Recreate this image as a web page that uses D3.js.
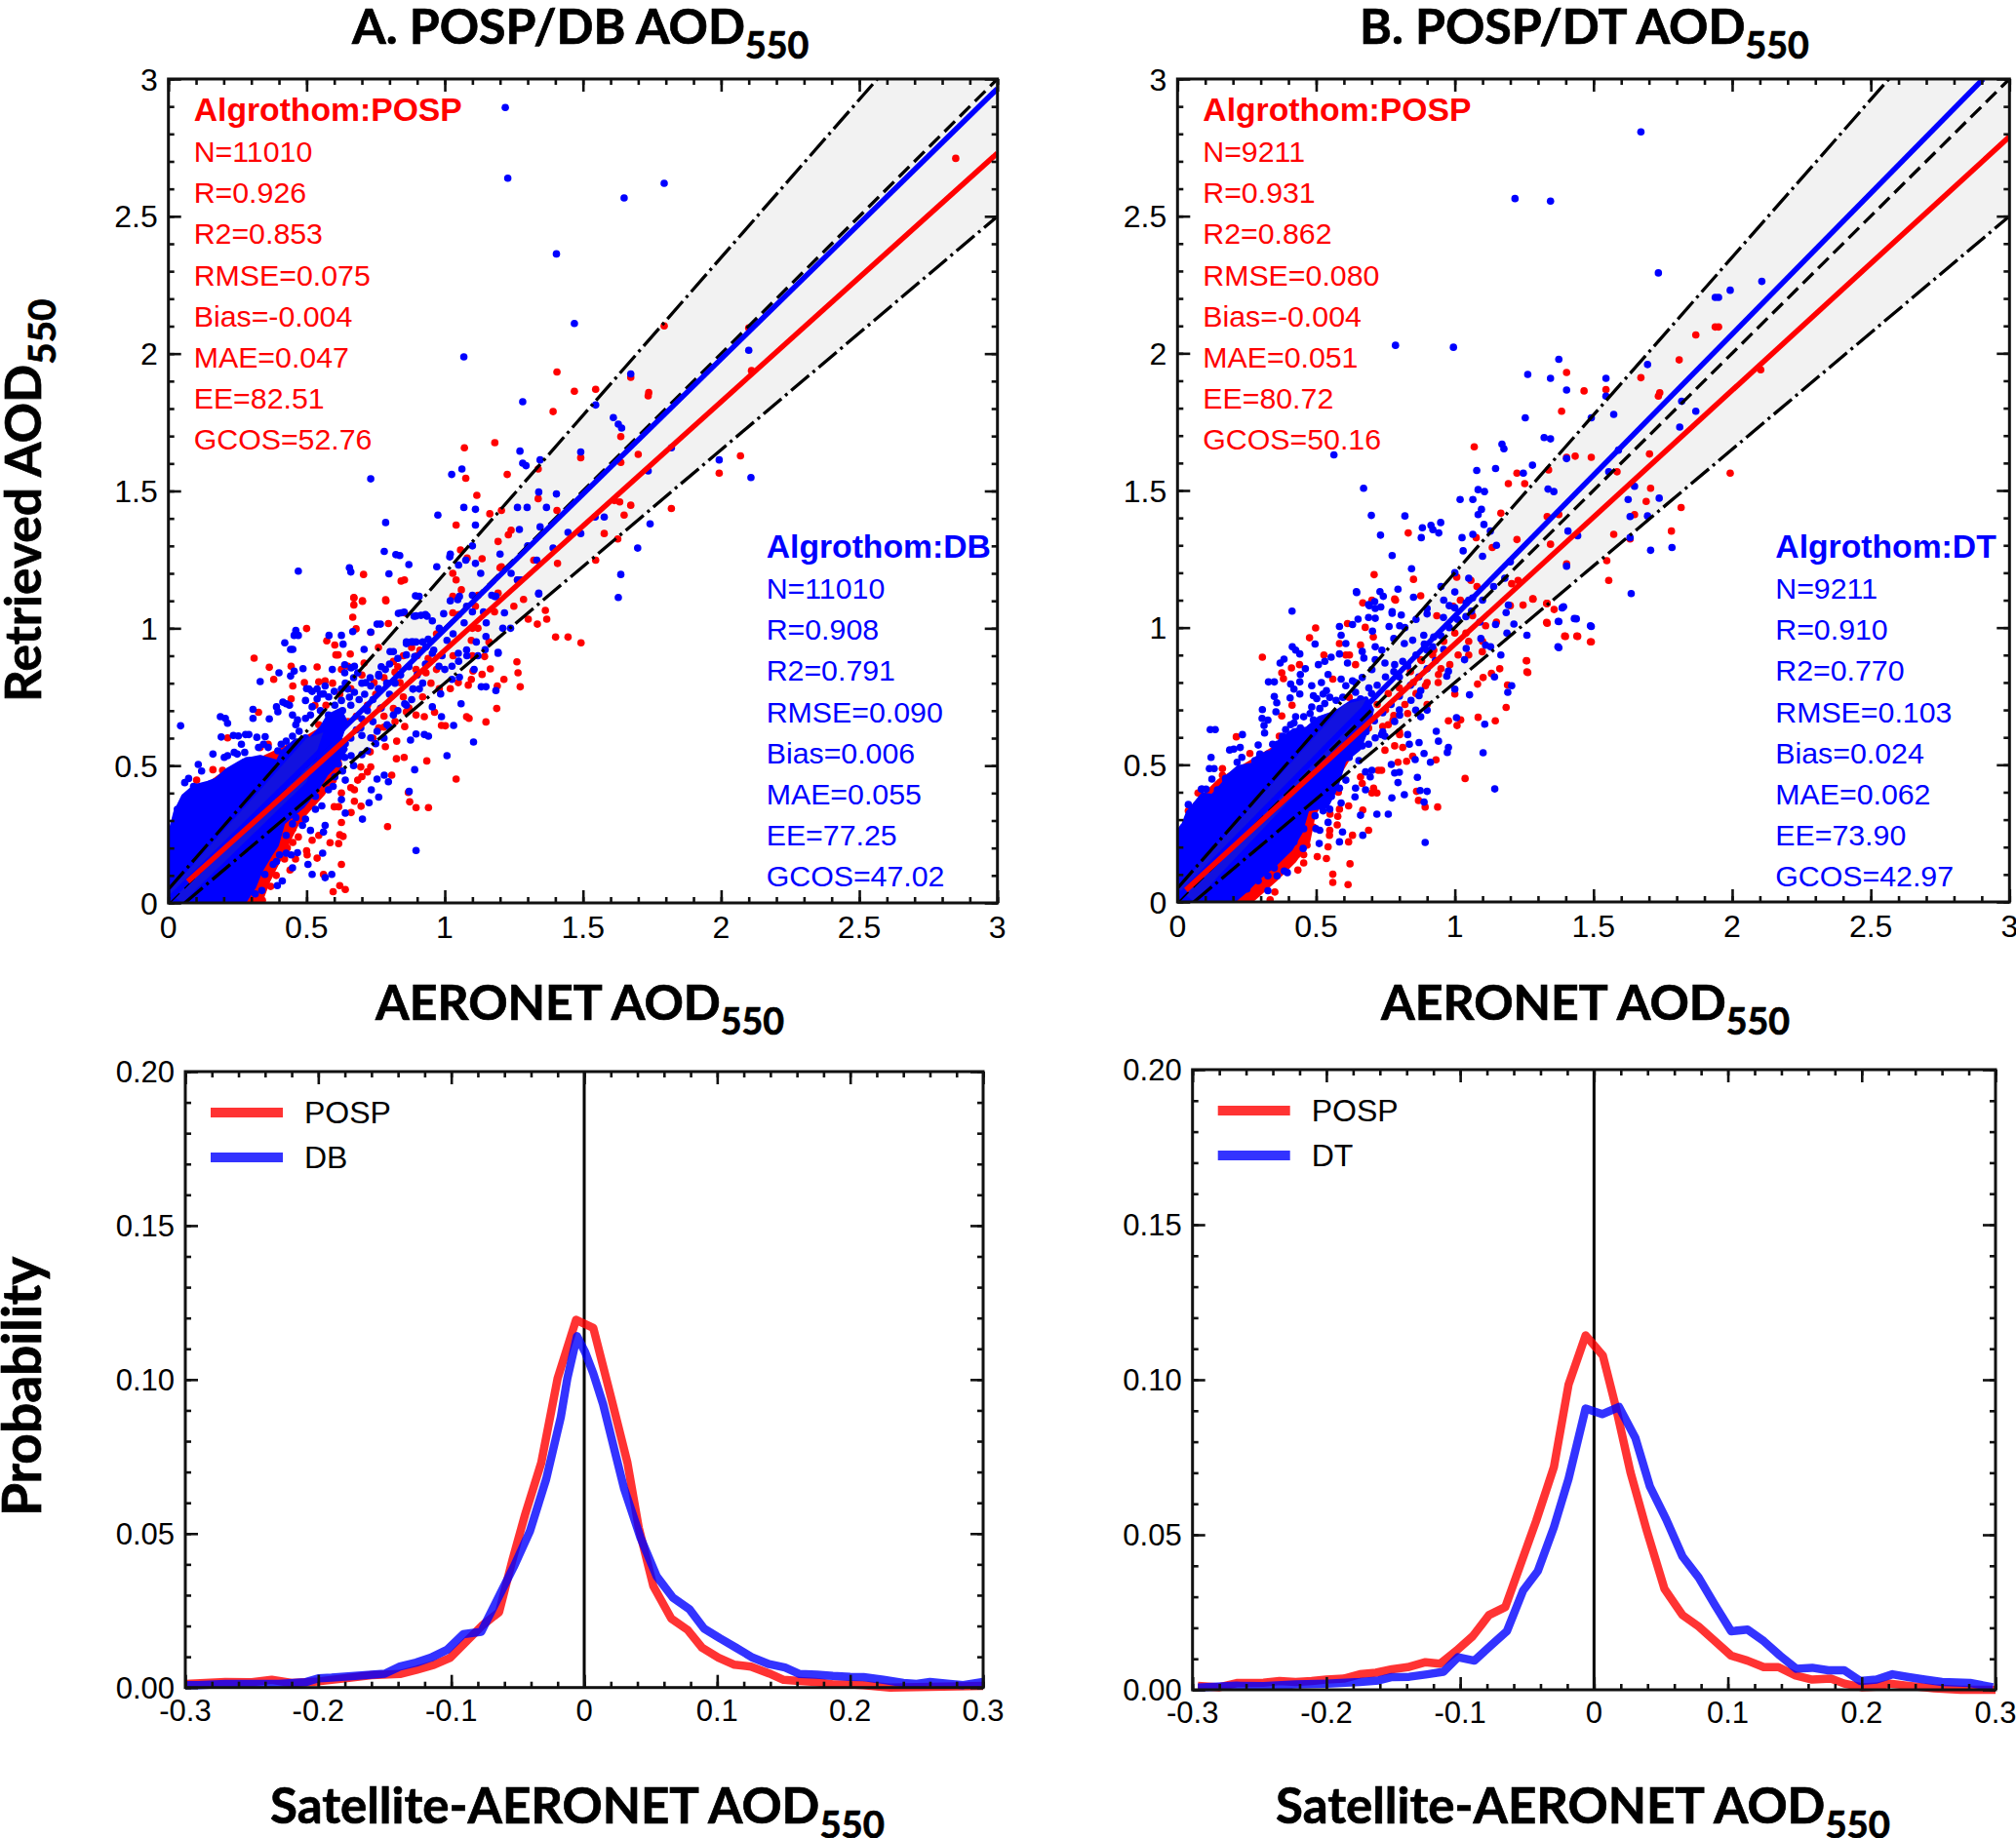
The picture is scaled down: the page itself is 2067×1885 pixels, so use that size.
<!DOCTYPE html>
<html>
<head>
<meta charset="utf-8">
<script src="https://cdn.jsdelivr.net/npm/d3@7"></script>
<style>
  html, body { margin: 0; padding: 0; background: #fff; overflow: hidden; }
  svg { display: block; }
  .head { font-family: Lato, sans-serif; font-weight: 700; fill: #000; stroke: #000; stroke-width: 0.7px; }
  .num  { font-family: "Liberation Sans", Arial, sans-serif; }
</style>
</head>
<body>
<svg id="fig" width="2067" height="1885"></svg>
<script>
/* ---------- scatter: reference lines and fits, [x, y] in AOD ---------- */
const oneToOne = [[0, 0], [3, 3]];
const eeUpper  = [[0, 0.05], [3, 3.5]];
const eeLower  = [[0.059, 0], [3, 2.5]];
const fitPospA = [[0.07, 0.078], [3, 2.73]];
const fitDbA   = [[0, 0.012], [3, 2.965]];
const fitPospB = [[0.03, 0.043], [3, 2.79]];
const fitDtB   = [[0, 0.014], [2.905, 3]];

/* ---------- solid parts of the clouds, too dense to read point by point ---------- */
const cloudRedA = [[0,0],[0,.2],[.05,.36],[.2,.47],[.35,.53],[.5,.6],[.6,.66],[.62,.5],[.56,.4],[.47,.3],[.42,.2],[.36,.08],[.33,0]];
const cloudDbA = [[0,0],[0,.21],[.008,.258],[.026,.329],[.055,.388],[.096,.424],[.144,.436],[.173,.447],[.214,.483],[.273,.518],[.332,.53],[.396,.512],[.414,.55],[.461,.59],[.508,.589],[.555,.637],[.58,.68],[.62,.7],[.64,.66],[.62,.6],[.64,.56],[.6,.5],[.57,.47],[.54,.42],[.485,.353],[.414,.293],[.391,.211],[.367,.175],[.332,.116],[.308,.057],[.273,.004]];
const cloudRedB = [[0,0],[0,.22],[.05,.34],[.15,.44],[.3,.53],[.45,.62],[.55,.68],[.66,.6],[.6,.5],[.54,.4],[.49,.32],[.47,.22],[.42,.15],[.35,.08],[.26,0]];
const cloudDtB = [[0,0],[0,.255],[.021,.278],[.039,.326],[.068,.361],[.091,.39],[.127,.385],[.168,.432],[.174,.45],[.22,.49],[.279,.5],[.291,.53],[.338,.545],[.373,.59],[.42,.625],[.467,.63],[.513,.67],[.572,.69],[.631,.73],[.68,.74],[.7,.7],[.689,.65],[.654,.56],[.6,.515],[.572,.421],[.537,.35],[.467,.338],[.443,.255],[.408,.195],[.349,.136],[.291,.089],[.244,.041],[.197,0]];
const coreA = [[0,.04],[.5,.6],[.56,.62],[.5,.44],[.05,0]];
const coreB = [[0,.05],[.6,.72],[.68,.74],[.6,.58],[.06,0]];

/* ---------- scatter points, [AERONET, retrieved] ---------- */
const redA = [[.5,.999],[.31,.891],[.365,.858],[.381,.814],[.326,.694],[.444,.862],[.538,.859],[.573,.954],[.602,.939],[.606,.903],[.658,.906],[.667,1.04],[.671,1.11],[.702,1.098],[.787,1.1],[.679,.998],[.492,.802],[.544,.805],[.567,.808],[.594,.8],[.796,1.017],[.732,.985],[1.401,.968],[1.446,.968],[1.493,.947],[1.369,1.033],[1.335,1.015],[1.302,1.033],[1.364,1.065],[1.285,1.105],[1.25,1.08],[1.261,.878],[1.265,.838],[1.214,.814],[1.273,.787],[1.19,.79],[1.188,.708],[1.165,.852],[1.135,.832],[1.085,.793],[1.102,.844],[1.079,.678],[1.088,.672],[1.149,.659],[1.002,.645],[.988,.646],[.963,.694],[1.041,.451],[.855,.642],[.785,.569],[.808,.465],[.793,.278],[.868,.402],[.873,.368],[.896,.347],[.941,.347],[.853,.53],[.825,.525],[.935,.517],[.673,.37],[.697,.352],[.661,.329],[.6,.35],[.616,.35],[.626,.293],[.62,.248],[.632,.242],[.585,.219],[.616,.216],[.561,.104],[.62,.063],[.596,.041],[.64,.049],[.626,.14],[.538,.163],[.52,.228],[.544,.246],[.502,.175],[2.849,2.711],[1.794,2.101],[2.1,2.094],[2.11,1.938],[1.406,1.933],[1.469,1.863],[1.546,1.87],[1.673,1.914],[1.738,1.858],[1.736,1.846],[1.392,1.789],[1.637,1.698],[1.7,1.633],[1.637,1.604],[1.492,1.621],[1.181,1.676],[1.071,1.657],[1.076,1.546],[1.226,1.56],[1.338,1.58],[1.116,1.484],[1.338,1.472],[1.406,1.429],[2.07,1.628],[1.993,1.565],[1.82,1.436],[1.673,1.448],[1.649,1.412],[1.633,1.46],[1.614,1.465],[1.626,1.325],[1.577,1.345],[1.546,1.248],[1.408,1.236],[1.041,1.376],[1.057,1.285],[1.163,1.417],[1.205,1.429],[1.24,1.357],[1.23,1.34],[1.193,1.316],[1.081,1.256],[1.135,1.253],[1.029,1.2],[1.041,1.176],[.854,1.176],[.842,1.172],[.706,1.196],[.786,1.104],[.671,1.112],[.702,1.1],[.671,1.085],[.45,.79],[.62,.76],[.7,.83],[.76,.93],[.83,.86],[.9,.9],[.97,.98],[1.05,1.05],[1.12,1.12],[1.2,1.22],[.78,.68],[.85,.75],[.95,.8],[1.03,.9],[1.1,1],[.73,.55],[.7,.46],[.66,.42]];
const redAEdge = [[.45,.22],[.47,.24],[.43,.2],[.42,.16],[.39,.1],[.37,.06],[.34,.01],[.33,.04],[.45,.27],[.48,.3],[.5,.19],[.46,.16],[.44,.12],[.36,.14],[.4,.21],[.026,.258],[.014,.246],[.049,.341],[.102,.447],[.161,.485],[.196,.483],[.214,.601],[.361,.578],[.332,.566],[.396,.53],[.444,.743],[.544,.649],[.596,.649],[.614,.684],[.649,.862],[.626,.85],[.614,.903],[.708,.873],[.744,.802],[.814,.879],[.896,.85],[.932,.838],[.838,.802],[.767,.708],[.814,.708],[.861,.696],[.896,.684],[.926,.678],[.761,.637],[.826,.589],[.696,.495],[.72,.477],[.732,.495],[.685,.447],[.673,.412],[.626,.4],[.596,.447],[.579,.483],[1.096,.956],[1.144,.897],[1.049,.802],[1.096,.814],[1.029,1.116],[1.111,1.08],[1.205,1.224],[1.263,1.176],[1.322,1.248],[1.193,1.128],[1.029,1.056],[.854,1.056],[.65,.66],[.68,.68],[.72,.72],[.75,.76],[.78,.82],[.82,.84],[.85,.9],[.88,.93],[.91,.92],[.94,.89],[.97,.85],[.92,.75],[.87,.71],[.82,.66],[.78,.64],[.74,.6],[.62,.62],[.59,.6],[.57,.72],[.53,.72],[.66,.78],[.98,.78],[1.02,.78],[1.1,.9],[1.16,.95],[1.12,1],[1.18,1.06],[1.06,1.14]];
const blueA = [[.044,.645],[.188,.678],[.206,.672],[.214,.654],[.191,.604],[.235,.61],[.253,.608],[.279,.613],[.291,.613],[.32,.603],[.35,.605],[.306,.705],[.306,.672],[.365,.67],[.332,.806],[.4,.838],[.421,.947],[.45,.923],[.442,.923],[.461,.992],[.455,.974],[.47,.974],[.442,.826],[.455,.844],[.487,.853],[.581,.974],[.626,.974],[.632,.942],[.667,.988],[.593,.85],[.5,.78],[.52,.77],[.55,.76],[.894,1.118],[.832,1.054],[.853,1.059],[.896,1.045],[.914,1.047],[.996,1.053],[1.047,1.104],[1.079,1.08],[1.185,1.116],[1.34,1.125],[1.149,.97],[1.21,1],[1.238,1],[1.193,.909],[1.106,.85],[1.053,.822],[1.132,.787],[1.149,.787],[1.185,.773],[1.059,.725],[.988,.678],[1.032,.646],[1.104,.586],[1.008,.536],[.941,.607],[.926,.613],[.896,.615],[.876,.593],[.891,.485],[.871,.406],[.896,.191],[.796,.441],[.781,.465],[.755,.451],[.734,.412],[.761,.385],[.726,.365],[.702,.305],[.64,.327],[.567,.282],[.561,.258],[.514,.264],[.52,.104],[.591,.104],[.567,.092],[.505,.14],[.558,.181],[.467,.183],[.449,.128],[.412,.08],[.394,.063],[.696,.637],[.579,.542],[.64,.447],[.596,.424],[.626,.376],[.955,.714],[.855,.725],[.885,.779],[.985,.761],[1.026,.862],[1.114,.95],[1.079,.921],[1.049,.909],[1.008,.956],[.955,1.027],[.861,.944],[.885,.95],[.767,1.015],[.755,1.015],[.708,.923],[.732,.986],[.802,.915],[.761,.832],[.673,.862],[.638,.867],[1.219,2.896],[1.228,2.639],[1.794,2.62],[1.649,2.567],[1.404,2.363],[1.469,2.11],[1.069,1.988],[1.673,1.926],[2.1,2.012],[1.282,1.825],[1.546,1.813],[1.61,1.767],[1.628,1.743],[1.64,1.729],[1.492,1.642],[1.272,1.645],[1.282,1.601],[1.294,1.592],[1.345,1.613],[.732,1.544],[1.062,1.58],[1.025,1.56],[1.993,1.613],[2.108,1.549],[1.736,1.573],[1.82,1.657],[.975,1.412],[.786,1.385],[1.069,1.44],[1.111,1.433],[1.111,1.376],[.781,1.28],[.823,1.268],[.837,1.265],[.87,1.232],[.798,1.198],[.47,1.208],[.655,1.22],[.66,1.205],[1.637,1.196],[1.628,1.112],[1.743,1.38],[1.698,1.292],[1.544,1.405],[1.577,1.405],[1.34,1.496],[1.404,1.489],[1.263,1.44],[1.298,1.44],[1.368,1.44],[1.446,1.349],[1.492,1.345],[1.392,1.292],[1.345,1.369],[1.333,1.248],[1.263,1.176],[1.34,1.128],[1.02,1.27],[1.05,1.23],[1.1,1.3],[1.13,1.2],[1.17,1.12],[1.1,1.12],[1.02,1.1],[.93,1.05],[1.2,1.27],[1.27,1.36],[1.3,1.3]];
const blueAEdge = [[.032,.341],[.049,.353],[.059,.438],[.073,.453],[.091,.424],[.108,.504],[.12,.48],[.161,.542],[.202,.53],[.214,.536],[.238,.548],[.249,.542],[.264,.578],[.276,.548],[.285,.518],[.297,.518],[.326,.566],[.344,.578],[.361,.566],[.396,.554],[.408,.578],[.426,.589],[.449,.607],[.473,.625],[.496,.601],[.461,.649],[.467,.666],[.496,.672],[.514,.684],[.426,.725],[.414,.731],[.438,.72],[.391,.714],[.396,.696],[.449,.684],[.496,.737],[.508,.779],[.538,.779],[.567,.79],[.561,.761],[.538,.743],[.52,.714],[.579,.684],[.602,.72],[.626,.737],[.655,.749],[.673,.767],[.626,.779],[.649,.779],[.638,.838],[.661,.856],[.685,.838],[.714,.802],[.732,.79],[.761,.826],[.785,.85],[.814,.915],[.861,.903],[.891,.897],[.896,.95],[.861,.95],[.879,.95],[.92,.95],[.932,.933],[.955,.909],[.979,.862],[1,.85],[1.026,.814],[.885,.779],[.908,.779],[.861,.72],[.814,.684],[.791,.649],[.755,.625],[.732,.601],[.72,.554],[.661,.536],[.638,.53],[.614,.506],[.602,.459],[.579,.412],[.532,.388],[.555,.353],[.532,.341],[.496,.305],[.485,.282],[.461,.311],[.449,.288],[.426,.246],[.444,.175],[.426,.181],[.402,.175],[.391,.151],[.379,.14],[.349,.104],[.338,.045],[.314,.033],[.842,1.056],[.889,1.044],[.936,1.044],[.907,1.116],[.971,1.224],[1.018,1.26],[1.076,1.248],[1.111,1.236],[1.053,1.116],[1.181,1.116],[1.24,1.2],[1.275,1.176],[1.216,1.056],[1.146,.922],[1.193,.912],[.6,.68],[.63,.7],[.66,.72],[.69,.74],[.71,.76],[.74,.74],[.72,.7],[.7,.67],[.68,.63],[.66,.6],[.7,.61],[.74,.66],[.77,.71],[.8,.76],[.82,.8],[.84,.83],[.79,.8],[.76,.78],[.73,.82],[.77,.86],[.8,.87],[.83,.89],[.87,.86],[.9,.83],[.93,.87],[.96,.92],[.99,.9],[.92,.8],[.88,.74],[.83,.7],[.8,.64],[.78,.6],[.75,.58],[.7,.54],[.67,.5],[.63,.48],[.6,.55],[.64,.58],[.55,.7],[.58,.75],[.6,.77],[.64,.8],[.67,.82],[.7,.8],[.94,.96],[.98,1],[1.03,.98],[1.07,1.02],[1.1,1.06],[1.14,1.06],[1.15,1.02],[1.05,.88],[1.08,.9],[1.12,.9]];
const redB = [[.498,.999],[.476,.963],[.306,.892],[.212,.602],[.376,.835],[.382,.814],[.411,.853],[.44,.865],[.413,.717],[.376,.678],[.261,.541],[.162,.486],[.074,.397],[.613,1.015],[.668,1.09],[.701,1.1],[.783,1.104],[.877,1.116],[.677,1.001],[.706,.966],[.584,.942],[.528,.9],[.607,.9],[.62,.9],[.642,.865],[.66,.936],[.56,.812],[.619,.746],[1.358,1.066],[1.396,.969],[1.44,.969],[1.489,.948],[1.331,1.019],[1.331,1.088],[1.281,1.105],[1.246,1.082],[1.258,.88],[1.26,.839],[1.162,.85],[1.132,.833],[1.102,.818],[1.082,.794],[1.19,.791],[1.185,.709],[1.146,.66],[1.084,.673],[1.021,.664],[1.008,.643],[.977,.66],[1,.758],[1.099,.912],[1.111,1.007],[1.037,.45],[.938,.346],[.893,.346],[.869,.37],[.862,.403],[.932,.518],[.848,.531],[.826,.513],[.795,.509],[.812,.563],[.783,.569],[.748,.553],[.724,.48],[.719,.397],[.707,.415],[.668,.335],[.689,.261],[.631,.243],[.617,.219],[.622,.139],[.56,.101],[.56,.071],[.615,.063],[.576,.281],[.578,.312],[.617,.35],[.548,.243],[.543,.201],[.537,.158],[.504,.165],[.455,.142],[.434,.116],[.351,.036],[.334,.008],[.291,.047],[.256,.02],[2.103,1.94],[1.993,1.563],[1.951,2.096],[1.939,2.096],[1.869,2.067],[1.809,1.976],[1.671,1.911],[1.739,1.856],[1.734,1.844],[1.403,1.93],[1.466,1.863],[1.545,1.868],[1.385,1.789],[1.702,1.633],[1.403,1.621],[1.434,1.625],[1.492,1.621],[1.585,1.568],[1.07,1.659],[1.224,1.563],[1.193,1.525],[1.338,1.575],[1.252,1.525],[1.706,1.508],[1.648,1.412],[1.69,1.46],[1.816,1.438],[1.781,1.352],[1.573,1.34],[1.632,1.323],[1.548,1.244],[1.555,1.172],[1.403,1.232],[.832,1.345],[.709,1.193],[.851,1.176],[.786,1.1],[1.166,1.417],[1.333,1.405],[1.375,1.412],[1.224,1.321],[1.345,1.304],[1.077,1.328],[1.135,1.292],[1.007,1.184],[1.058,1.172],[1.205,1.16],[1.228,1.172],[1.282,1.104],[1.333,1.088],[1.333,1.016],[1.399,.968],[1.443,.968],[1.492,.948],[1.259,.879],[1.263,.836],[.75,.7],[.8,.62],[.9,.72],[.95,.85],[1.05,.95],[.85,.8]];
const redBEdge = [[.009,.243],[.039,.332],[.068,.35],[.127,.397],[.162,.462],[.273,.48],[.332,.515],[.367,.604],[.513,.551],[.572,.598],[.631,.575],[.654,.586],[.689,.634],[.76,.646],[.777,.663],[.801,.61],[.83,.687],[.894,.788],[.941,.829],[.982,.865],[1.012,.9],[.877,.883],[.924,.918],[.935,1.043],[.994,1.078],[1.064,1.043],[.455,.338],[.478,.302],[.49,.273],[.467,.207],[.455,.172],[.431,.172],[.408,.148],[.385,.154],[.361,.148],[.291,.089],[.256,.03],[.66,.456],[.666,.432],[.736,.48],[.701,.397],[.584,.338],[.549,.261],[.72,.72],[.76,.76],[.8,.78],[.84,.84],[.88,.88],[.92,.9],[.96,.95],[1,.98],[1.04,.98],[.86,.76],[.82,.72],[.78,.68],[.74,.64],[.9,.8],[.94,.8],[1.05,.9],[1.1,.95],[1.15,1.02],[1.2,1.08],[.66,.66],[.62,.62],[.6,.52],[.56,.46],[.52,.42],[.58,.4],[.55,.32],[1.02,1.1],[1.08,1.15]];
const blueB = [[.413,1.06],[.645,1.131],[.73,1.131],[.742,1.114],[.795,1.14],[.851,1.111],[.689,1.084],[.713,1.07],[.733,1.075],[.774,1.058],[.807,1.046],[.651,1.031],[.689,1.037],[.713,1.034],[.631,1.011],[.584,1.004],[.763,1.004],[.801,1.007],[.703,.987],[.59,.972],[.607,.942],[.496,.94],[.414,.93],[.426,.918],[.441,.904],[.384,.885],[.37,.871],[.666,.913],[.672,.889],[.584,.904],[.554,.892],[.531,.877],[.508,.865],[.613,.871],[.461,.85],[.443,.829],[.349,.802],[.328,.802],[.408,.794],[.441,.802],[.42,.776],[.441,.758],[.406,.744],[.349,.749],[.358,.726],[.484,.788],[.543,.829],[.519,.8],[.59,.812],[.631,.806],[.306,.701],[.355,.693],[.305,.669],[.326,.663],[.312,.643],[.118,.628],[.136,.628],[.234,.61],[.314,.616],[.291,.572],[.203,.557],[.188,.554],[.226,.563],[.121,.527],[.115,.486],[.132,.486],[.124,.448],[.089,.411],[.039,.355],[1.387,1.072],[1.431,1.033],[1.489,1.007],[1.375,1.022],[1.372,.93],[1.26,.972],[1.213,1.013],[1.188,.98],[1.166,.9],[1.147,1.011],[1.193,1.082],[1.185,1.055],[1.143,.82],[1.205,.788],[1.191,.764],[1.053,.755],[1,.776],[1.108,.648],[1.006,.672],[.977,.563],[.973,.545],[1.102,.544],[1.144,.412],[.941,.586],[.933,.622],[.889,.541],[.912,.509],[.857,.519],[.865,.454],[.9,.403],[.875,.406],[.818,.391],[.773,.379],[.889,.364],[.76,.32],[.719,.32],[.66,.316],[.668,.243],[.893,.217],[.795,.435],[.783,.47],[.8,.473],[.771,.501],[.695,.456],[.678,.409],[.642,.415],[.64,.383],[.59,.361],[.595,.255],[.584,.219],[.511,.213],[.499,.267],[.513,.261],[.543,.29],[.453,.195],[.396,.107],[.359,.095],[.326,.041],[1.671,2.807],[1.217,2.564],[1.345,2.555],[1.734,2.293],[2.107,2.262],[1.993,2.23],[1.951,2.204],[1.939,2.204],[.786,2.029],[.995,2.022],[1.375,1.978],[1.695,1.959],[1.263,1.923],[1.345,1.909],[1.545,1.909],[1.403,1.866],[1.545,1.844],[1.818,1.825],[1.869,1.789],[1.811,1.731],[1.254,1.765],[1.492,1.765],[1.573,1.777],[1.322,1.693],[1.345,1.688],[1.17,1.669],[1.177,1.652],[.564,1.63],[1.403,1.616],[1.59,1.647],[1.079,1.573],[1.147,1.58],[1.247,1.563],[1.28,1.592],[1.555,1.568],[.671,1.508],[1.084,1.503],[1.107,1.496],[1.019,1.467],[1.065,1.467],[1.336,1.505],[1.357,1.496],[1.648,1.515],[1.625,1.467],[1.737,1.472],[.699,1.409],[.82,1.407],[1.096,1.431],[1.084,1.412],[1.632,1.405],[1.695,1.407],[.949,1.383],[.914,1.373],[.883,1.364],[.921,1.357],[.879,1.328],[.942,1.345],[.732,1.337],[.774,1.263],[.844,1.215],[1.03,1.28],[1.026,1.328],[1.105,1.376],[1.065,1.34],[1.128,1.352],[1.408,1.352],[1.443,1.335],[1.632,1.328],[1.706,1.282],[1.783,1.292],[1.636,1.124],[1.403,1.224],[1.392,1.076],[1.373,1.023],[1.438,1.032],[1.492,1.004],[1.375,.927],[.646,1.128],[.711,1.095],[.692,1.08],[.774,1.052],[.95,1.15],[1,1.2],[1.05,1.18],[1.1,1.26],[1.15,1.3],[1.2,1.24],[.9,1.05],[.98,1.08],[1.06,1.06]];
const blueBEdge = [[.021,.273],[.042,.308],[.056,.326],[.086,.411],[.103,.411],[.144,.409],[.173,.45],[.191,.456],[.215,.509],[.232,.527],[.255,.492],[.279,.515],[.297,.539],[.326,.539],[.343,.575],[.361,.575],[.379,.604],[.39,.628],[.408,.646],[.426,.675],[.42,.652],[.443,.634],[.455,.675],[.478,.687],[.49,.664],[.484,.711],[.513,.705],[.531,.723],[.502,.741],[.525,.758],[.537,.77],[.49,.752],[.549,.746],[.572,.735],[.596,.746],[.642,.764],[.642,.8],[.607,.788],[.666,.818],[.701,.847],[.713,.883],[.748,.871],[.783,.865],[.812,.877],[.713,.93],[.737,.918],[.818,.942],[.848,.954],[.888,.972],[.924,.966],[.9,.918],[.959,1.037],[1,1.072],[1.041,1.09],[1.064,1.108],[1.094,.96],[1.111,.936],[1.129,.93],[1.041,.924],[1.035,.883],[.977,.841],[.971,.823],[.877,.77],[.871,.752],[.842,.735],[.859,.699],[.9,.699],[.877,.675],[.801,.681],[.783,.658],[.736,.61],[.748,.604],[.713,.598],[.689,.575],[.666,.569],[.83,.61],[.871,.581],[.836,.575],[.701,.48],[.678,.474],[.654,.515],[.619,.527],[.607,.444],[.584,.415],[.555,.385],[.549,.338],[.525,.332],[.496,.314],[.455,.267],[.42,.219],[.402,.207],[.408,.249],[.385,.113],[.349,.124],[.326,.095],[.291,.077],[.25,.047],[.7,.76],[.72,.79],[.75,.82],[.78,.84],[.8,.82],[.83,.86],[.86,.9],[.89,.94],[.92,.93],[.95,.97],[.98,1],[1.01,1.03],[1.04,1.04],[.96,.92],[.93,.88],[.9,.85],[.87,.82],[.84,.79],[.8,.75],[.77,.72],[.74,.69],[.71,.66],[.68,.62],[.65,.58],[.62,.56],[.74,.62],[.8,.7],[.6,.66],[.62,.7],[.66,.74],[.69,.78],[1.1,1.1],[1.14,1.15],[1.05,1.1],[1.18,1.18],[1.09,1.02],[.78,.96],[.82,1],[.86,1.03],[.9,1.07],[.96,1.1],[1,1.13]];

/* ---------- probability curves, [difference, probability] ---------- */
const pdfPospA = [[-.3,.0012],[-.27,.0018],[-.25,.0017],[-.235,.0025],[-.22,.0015],[-.2,.002],[-.18,.003],[-.16,.004],[-.1386,.0044],[-.1264,.0057],[-.113,.0074],[-.1007,.0097],[-.0885,.015],[-.0763,.0203],[-.064,.0245],[-.054,.0414],[-.0445,.0561],[-.0323,.073],[-.02,.1004],[-.0061,.1194],[.0068,.1168],[.0203,.094],[.0325,.073],[.041,.0519],[.052,.0329],[.0655,.0224],[.0778,.0187],[.0887,.0129],[.101,.0097],[.113,.0074],[.1254,.0068],[.139,.0046],[.15,.0025],[.162,.0021],[.174,.0018],[.187,.001],[.2,.001],[.21,.0008],[.23,0],[.26,.0002],[.3,.0005]];
const pdfDb = [[-.3,.0008],[-.29,.0008],[-.27,.0012],[-.25,.0012],[-.23,.0012],[-.21,.0017],[-.2,.003],[-.19,.0032],[-.175,.0037],[-.16,.0042],[-.15,.0045],[-.1386,.0068],[-.1264,.0081],[-.1154,.0097],[-.103,.0123],[-.091,.0173],[-.0775,.0181],[-.0665,.0276],[-.053,.0392],[-.0408,.0508],[-.0286,.0677],[-.0176,.0878],[-.0127,.1004],[-.0054,.1141],[.0007,.1089],[.0068,.102],[.0142,.092],[.0215,.0793],[.03,.0646],[.0423,.0487],[.0545,.0361],[.0667,.0292],[.079,.0255],[.09,.0192],[.102,.016],[.1144,.0129],[.1267,.0097],[.139,.0076],[.151,.0065],[.162,.0044],[.175,.0042],[.187,.0038],[.2,.0035],[.21,.0034],[.225,.0025],[.24,.0015],[.25,.0012],[.26,.0018],[.275,.0012],[.285,.0008],[.3,.0018]];
const pdfPospB = [[-.296,.0013],[-.28,.0008],[-.267,.0022],[-.247,.0023],[-.235,.0028],[-.223,.0025],[-.211,.0028],[-.2,.0033],[-.187,.0036],[-.175,.005],[-.163,.0055],[-.151,.0066],[-.1392,.0073],[-.1259,.0089],[-.115,.0084],[-.1028,.0126],[-.0906,.0173],[-.0785,.0241],[-.0663,.0267],[-.0554,.0398],[-.0432,.0545],[-.03,.0718],[-.019,.0985],[-.0063,.1143],[.0066,.1078],[.0163,.0912],[.0272,.0702],[.0394,.0514],[.0527,.0325],[.0661,.0241],[.0782,.0204],[.0904,.0157],[.1025,.011],[.1147,.0094],[.1268,.0073],[.1378,.0073],[.15,.0047],[.163,.0033],[.177,.0036],[.187,.002],[.2,.0008],[.211,.001],[.221,.002],[.235,.0013],[.254,.0005],[.274,0],[.3,0]];
const pdfDt = [[-.296,.0007],[-.267,.0013],[-.247,.0012],[-.223,.0017],[-.2,.002],[-.175,.0025],[-.161,.003],[-.151,.0041],[-.138,.0042],[-.1246,.005],[-.1125,.0058],[-.1016,.0105],[-.0894,.0094],[-.0773,.0142],[-.0651,.0189],[-.053,.032],[-.042,.0383],[-.03,.0524],[-.019,.0681],[-.0063,.0907],[.0061,.0889],[.0187,.0912],[.0309,.0812],[.0418,.0655],[.0539,.055],[.0661,.043],[.0782,.0362],[.0904,.0273],[.1025,.0189],[.1147,.0194],[.1268,.0157],[.139,.011],[.1511,.0068],[.163,.0071],[.175,.0063],[.187,.0063],[.199,.0028],[.211,.0033],[.223,.005],[.235,.0041],[.247,.0033],[.26,.0025],[.281,.0022],[.298,.0008]];

/* ---------- ticks and text ---------- */
const aodMajor = [0, 0.5, 1, 1.5, 2, 2.5, 3];
const aodMinor = d3.range(0, 31).map(d => d / 10);
const aodLabels = ["0", "0.5", "1", "1.5", "2", "2.5", "3"];
const diffMajor = [-0.3, -0.2, -0.1, 0, 0.1, 0.2, 0.3];
const diffMinor = d3.range(-15, 16).map(d => d / 50);
const diffLabels = ["-0.3", "-0.2", "-0.1", "0", "0.1", "0.2", "0.3"];
const probMajor = [0, 0.05, 0.10, 0.15, 0.20];
const probMinor = d3.range(0, 21).map(d => d / 100);
const probLabels = ["0.00", "0.05", "0.10", "0.15", "0.20"];

const statNames = ["N", "R", "R2", "RMSE", "Bias", "MAE", "EE", "GCOS"];
const statsPospA = ["11010", "0.926", "0.853", "0.075", "-0.004", "0.047", "82.51", "52.76"];
const statsDb    = ["11010", "0.908", "0.791", "0.090", "0.006", "0.055", "77.25", "47.02"];
const statsPospB = ["9211", "0.931", "0.862", "0.080", "-0.004", "0.051", "80.72", "50.16"];
const statsDt    = ["9211", "0.910", "0.770", "0.103", "0.024", "0.062", "73.90", "42.97"];

const RED = "#ff0000", BLUE = "#0000ff";
const svg = d3.select("#fig");

/* box, inward ticks on all four sides, labels on left and bottom */
function frame(g, x, y, xMajor, xMinor, xLab, yMajor, yMinor, yLab, fs, labGap, yLabGap) {
  const [w, h] = [x.range()[1], y.range()[0]];
  const side = (axis, dx, dy, major, minor, mLen, nLen) => {
    const a = g.append("g").attr("transform", `translate(${dx},${dy})`);
    a.append("g").call(axis.tickValues(minor).tickSize(nLen).tickFormat(""));
    a.append("g").call(axis.tickValues(major).tickSize(mLen).tickFormat(""));
    a.selectAll("path").remove();
    a.selectAll("line").attr("stroke", "#111").attr("stroke-width", 2.6);
  };
  side(d3.axisBottom(x), 0, h, xMajor, xMinor, -13, -6);
  side(d3.axisTop(x),    0, 0, xMajor, xMinor, -13, -6);
  side(d3.axisLeft(y),   0, 0, yMajor, yMinor, -13, -6);
  side(d3.axisRight(y),  w, 0, yMajor, yMinor, -13, -6);

  g.append("rect").attr("width", w).attr("height", h)
    .attr("fill", "none").attr("stroke", "#111").attr("stroke-width", 3);

  g.selectAll(null).data(xMajor).enter().append("text").attr("class", "num")
    .attr("x", d => x(d)).attr("y", h + labGap).attr("text-anchor", "middle")
    .attr("font-size", fs).text((d, i) => xLab[i]);
  g.selectAll(null).data(yMajor).enter().append("text").attr("class", "num")
    .attr("x", -yLabGap).attr("y", d => y(d) + fs * 0.36).attr("text-anchor", "end")
    .attr("font-size", fs).text((d, i) => yLab[i]);
}

function subText(parent, x, y, size, label, sub, rotate) {
  const t = parent.append("text").attr("class", "head")
    .attr("font-size", size)
    .attr("transform", `translate(${x},${y})` + (rotate ? " rotate(-90)" : ""));
  t.append("tspan").text(label);
  if (sub) t.append("tspan").attr("dy", size * 0.3).attr("font-size", size * 0.75).text(sub);
}

function statBlock(g, x, y0, color, algo, values) {
  g.append("text").attr("class", "num").attr("x", x).attr("y", y0)
    .attr("fill", color).attr("font-size", 33.7).attr("font-weight", 700)
    .text("Algrothom:" + algo);
  g.selectAll(null).data(values).enter().append("text").attr("class", "num")
    .attr("x", x).attr("y", (d, i) => y0 + 42 + i * 42.2)
    .attr("fill", color).attr("font-size", 30.3)
    .text((d, i) => statNames[i] + "=" + d);
}

let clipId = 0;
function scatterPanel(p) {
  const g = svg.append("g").attr("transform", `translate(${p.left},${p.top})`);
  const x = d3.scaleLinear().domain([0, 3]).range([0, p.w]);
  const y = d3.scaleLinear().domain([0, 3]).range([p.h, 0]);
  const id = "clip" + (++clipId);
  g.append("clipPath").attr("id", id).append("rect").attr("width", p.w).attr("height", p.h);
  const plot = g.append("g").attr("clip-path", `url(#${id})`);
  const line = d3.line().x(d => x(d[0])).y(d => y(d[1]));

  // shaded expected error band
  plot.append("path").attr("d", line(eeUpper.concat([eeLower[1], eeLower[0], [0, 0]])) + "Z").attr("fill", "#f2f2f2");

  const cloud = (pts, color) => plot.append("path").attr("d", line(pts) + "Z")
    .attr("fill", color).attr("stroke", color).attr("stroke-width", 5).attr("stroke-linejoin", "round");
  const dots = (pts, color) => plot.append("g").selectAll("circle").data(pts).enter().append("circle")
    .attr("cx", d => x(d[0])).attr("cy", d => y(d[1])).attr("r", 3.8).attr("fill", color);

  cloud(p.redCloud, RED);
  dots(p.red, RED);
  cloud(p.blueCloud, BLUE);
  dots(p.blue, BLUE);
  plot.append("path").attr("d", line(p.core) + "Z").attr("fill", "#1212e0");

  const ref = (pts, dash) => plot.append("path").attr("d", line(pts)).attr("fill", "none")
    .attr("stroke", "#000").attr("stroke-width", 3.3).attr("stroke-dasharray", dash);
  ref(oneToOne, "15 7");
  ref(eeUpper, "24 5 3 5");
  ref(eeLower, "24 5 3 5");
  const fit = (pts, color) => plot.append("path").attr("d", line(pts)).attr("fill", "none")
    .attr("stroke", color).attr("stroke-width", 5.5);
  fit(p.fitBlue, BLUE);
  fit(p.fitRed, RED);

  frame(g, x, y, aodMajor, aodMinor, aodLabels, aodMajor, aodMinor, aodLabels, 32, 36, 11);
  statBlock(g, p.redX, 43, RED, "POSP", p.redStats);
  statBlock(g, p.blueX, 491, BLUE, p.algo, p.blueStats);
}

function pdfPanel(p) {
  const g = svg.append("g").attr("transform", `translate(${p.left},${p.top})`);
  const x = d3.scaleLinear().domain([-0.3, 0.3]).range([0, p.w]);
  const y = d3.scaleLinear().domain([0, 0.2]).range([p.h, 0]);
  const line = d3.line().x(d => x(d[0])).y(d => y(d[1]));

  g.append("line").attr("x1", x(0)).attr("x2", x(0)).attr("y1", 0).attr("y2", p.h)
    .attr("stroke", "#000").attr("stroke-width", 3);
  [[p.redCurve, RED], [p.blueCurve, BLUE]].forEach(([pts, color]) => {
    g.append("path").attr("d", line(pts)).attr("fill", "none")
      .attr("stroke", color).attr("stroke-opacity", 0.8).attr("stroke-width", 8.5)
      .attr("stroke-linejoin", "round");
  });

  frame(g, x, y, diffMajor, diffMinor, diffLabels, probMajor, probMinor, probLabels, 31, 34, 11);

  // legend
  [["POSP", RED, 42], [p.algo, BLUE, 88]].forEach(([name, color, ly]) => {
    g.append("line").attr("x1", 26).attr("x2", 100).attr("y1", ly).attr("y2", ly)
      .attr("stroke", color).attr("stroke-opacity", 0.8).attr("stroke-width", 10);
    g.append("text").attr("class", "num").attr("x", 122).attr("y", ly + 11)
      .attr("font-size", 32).text(name);
  });
}

scatterPanel({ left: 172.7, top: 81, w: 850, h: 845, red: redA.concat(redAEdge), blue: blueA.concat(blueAEdge),
  redCloud: cloudRedA, blueCloud: cloudDbA, core: coreA, fitRed: fitPospA, fitBlue: fitDbA,
  redStats: statsPospA, blueStats: statsDb, algo: "DB", redX: 26, blueX: 613 });
scatterPanel({ left: 1207.3, top: 81, w: 853, h: 844, red: redB.concat(redBEdge), blue: blueB.concat(blueBEdge),
  redCloud: cloudRedB, blueCloud: cloudDtB, core: coreB, fitRed: fitPospB, fitBlue: fitDtB,
  redStats: statsPospB, blueStats: statsDt, algo: "DT", redX: 26, blueX: 613 });
pdfPanel({ left: 190, top: 1099, w: 818, h: 631.7, redCurve: pdfPospA, blueCurve: pdfDb, algo: "DB" });
pdfPanel({ left: 1222.7, top: 1097, w: 823.3, h: 636, redCurve: pdfPospB, blueCurve: pdfDt, algo: "DT" });

subText(svg, 361, 45, 50, "A. POSP/DB AOD", "550");
subText(svg, 1394, 45, 50, "B. POSP/DT AOD", "550");
subText(svg, 385, 1046, 50, "AERONET AOD", "550");
subText(svg, 1416, 1046, 50, "AERONET AOD", "550");
subText(svg, 277, 1870, 51, "Satellite-AERONET AOD", "550");
subText(svg, 1308, 1870, 51, "Satellite-AERONET AOD", "550");
subText(svg, 42, 720, 51.5, "Retrieved AOD", "550", true);
subText(svg, 42, 1555, 55, "Probability", null, true);
</script>
</body>
</html>
